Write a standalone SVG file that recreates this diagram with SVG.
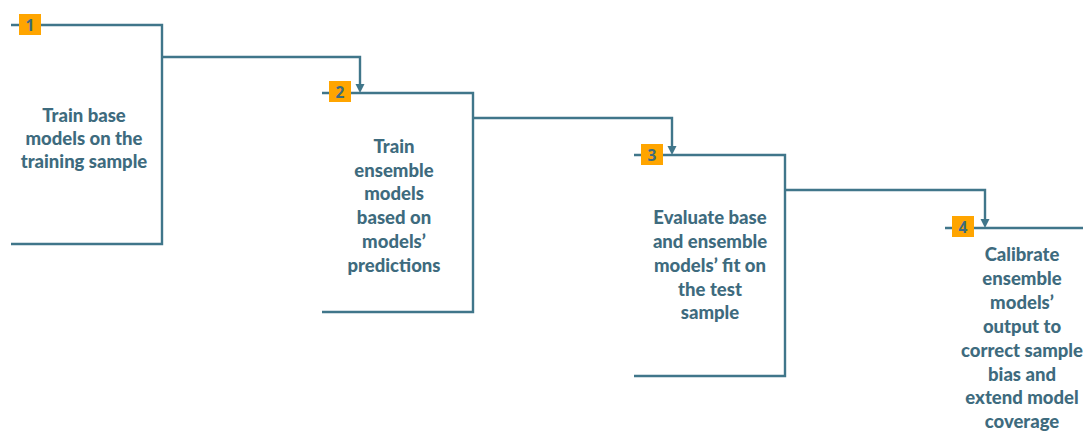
<svg xmlns="http://www.w3.org/2000/svg" width="1083" height="442" viewBox="0 0 1083 442">
<defs>
<style>
.ln{fill:none;stroke:#40768a;stroke-width:2.4}
.ah{fill:#40768a}
.bd{fill:#FFA500}
.bn{font-family:"Open Sans","Liberation Sans",sans-serif;font-weight:bold;font-size:15.5px;fill:#3e6b7e;text-anchor:middle}
.tx{font-family:Lato,"Open Sans","Liberation Sans",sans-serif;font-weight:900;font-size:18.5px;fill:#3e6b7e;text-anchor:middle}
</style>
</defs>
<rect width="1083" height="442" fill="#ffffff"/>
<g id="connectors">
<path class="ln" d="M162,57 H360 V88"/>
<path class="ah" d="M355.5,84 L364.5,84 L360,93 Z"/>
<path class="ln" d="M473,118 H672 V150"/>
<path class="ah" d="M667.5,146 L676.5,146 L672,155 Z"/>
<path class="ln" d="M785,190 H985 V223"/>
<path class="ah" d="M980.5,219 L989.5,219 L985,228 Z"/>
</g>
<g id="step1">
<path class="ln" d="M11,25 H162 V244 H11"/>
<rect class="bd" x="19" y="14" width="22" height="21"/>
<text class="bn" x="30" y="30.5">1</text>
<text class="tx" x="84" y="122">Train base</text>
<text class="tx" x="84" y="145">models on the</text>
<text class="tx" x="84" y="168">training sample</text>
</g>
<g id="step2">
<path class="ln" d="M322,93 H473 V312 H322"/>
<rect class="bd" x="329" y="81" width="22" height="21"/>
<text class="bn" x="340" y="97.5">2</text>
<text class="tx" x="394" y="153">Train</text>
<text class="tx" x="394" y="177">ensemble</text>
<text class="tx" x="394" y="200">models</text>
<text class="tx" x="394" y="224">based on</text>
<text class="tx" x="394" y="248">models’</text>
<text class="tx" x="394" y="272">predictions</text>
</g>
<g id="step3">
<path class="ln" d="M634,155 H785 V376 H634"/>
<rect class="bd" x="641" y="144" width="22" height="21"/>
<text class="bn" x="652" y="160.5">3</text>
<text class="tx" x="710" y="224">Evaluate base</text>
<text class="tx" x="710" y="248">and ensemble</text>
<text class="tx" x="710" y="272">models’ fit on</text>
<text class="tx" x="710" y="296">the test</text>
<text class="tx" x="710" y="319">sample</text>
</g>
<g id="step4">
<path class="ln" d="M945,228 H1083"/>
<rect class="bd" x="952" y="216" width="22" height="21"/>
<text class="bn" x="963" y="232.5">4</text>
<text class="tx" x="1022" y="261">Calibrate</text>
<text class="tx" x="1022" y="285">ensemble</text>
<text class="tx" x="1022" y="309">models’</text>
<text class="tx" x="1022" y="333">output to</text>
<text class="tx" x="1022" y="357">correct sample</text>
<text class="tx" x="1022" y="381">bias and</text>
<text class="tx" x="1022" y="404">extend model</text>
<text class="tx" x="1022" y="428">coverage</text>
</g>
</svg>
